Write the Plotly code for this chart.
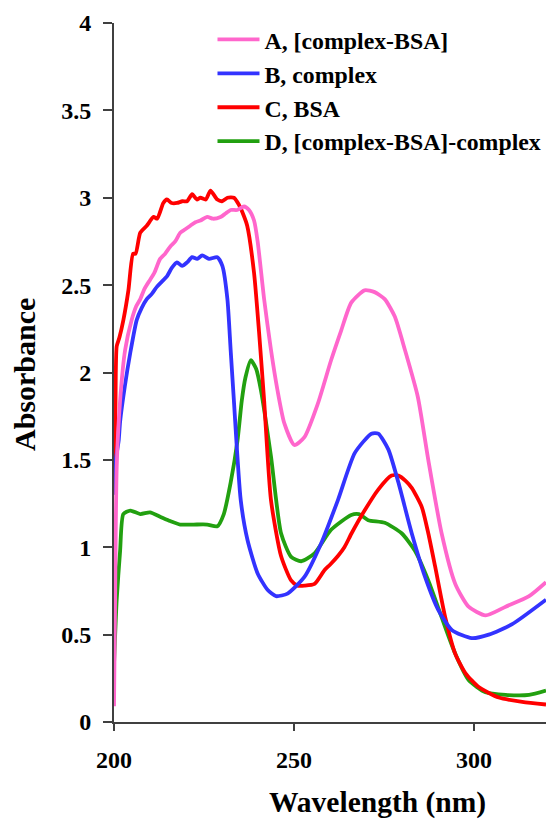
import plotly.graph_objects as go

# ---- data ----
names = ["A, [complex-BSA]", "B, complex", "C, BSA", "D, [complex-BSA]-complex"]
colors = ["#FF66CC", "#3333FF", "#FF0000", "#22A010"]

a_x = [200, 200.3, 200.75, 201.7, 203.1, 204.9, 206.2, 207.3, 208.5, 210, 211.2, 212.8, 214.2, 215.6, 217, 218.4, 219.8,
       221.2, 222.6, 224, 225.9, 227.5, 229.6, 231, 232.4, 234.2, 236.1, 237.5, 238.9, 239.9, 241.7, 243.6, 245.4,
       247.3, 250.1, 252.9, 256.6, 260.3, 263.1, 265.9, 269.6, 272.4, 275.2, 278, 280.8, 284.4, 287.3, 291,
       294.8, 298.5, 303.2, 308.8, 315.3, 320]
a_y = [0.09, 0.70, 1.46, 1.84, 2.13, 2.30, 2.38, 2.42, 2.48, 2.53, 2.57, 2.65, 2.68, 2.72, 2.75, 2.80, 2.82,
       2.84, 2.86, 2.87, 2.89, 2.88, 2.89, 2.91, 2.93, 2.93, 2.95, 2.93, 2.87, 2.75, 2.42, 2.13, 1.90,
       1.71, 1.585, 1.63, 1.82, 2.07, 2.24, 2.40, 2.47, 2.46, 2.42, 2.32, 2.13, 1.86, 1.50, 1.08,
       0.79, 0.66, 0.61, 0.66, 0.72, 0.80]

b_x = [200, 200.5, 201.3, 201.7, 203, 204.5, 206.3, 207.7, 209.1, 210.5, 211.9, 213.3, 214.7, 216.1, 217.5, 218.9,
       220.3, 221.7, 223.1, 224.5, 226.4, 228.7, 230.1, 231.5, 232.4, 233.3, 235.2, 237.1, 239.9, 242.7, 245,
       248.2, 252.9, 257.5, 262.2, 266.9, 271.5, 273.4, 276.2, 279, 282.7, 286.4, 290.1, 293.9, 299.4, 304.1,
       310.6, 320]
b_y = [1.30, 1.50, 1.61, 1.72, 1.92, 2.11, 2.30, 2.37, 2.42, 2.45, 2.49, 2.52, 2.55, 2.60, 2.63, 2.61,
       2.63, 2.66, 2.65, 2.67, 2.65, 2.66, 2.61, 2.42, 2.13, 1.84, 1.27, 1.04, 0.85, 0.755, 0.72,
       0.735, 0.83, 1.02, 1.27, 1.54, 1.65, 1.65, 1.56, 1.37, 1.08, 0.83, 0.64, 0.525, 0.48, 0.50,
       0.56, 0.70]

c_x = [200, 200.4, 200.75, 201.5, 202.6, 204, 205.3, 206, 207.3, 209.1, 211, 212, 213.7, 214.7, 216, 217.5, 219,
       220.3, 221.7, 223, 224, 225.5, 226.8, 228.7, 230, 231.5, 233.3, 234.7, 236, 237, 238.9, 240.3, 241.7,
       243.6, 246.4, 249.2, 251, 252.9, 255.7, 258.5, 260, 262.2, 264, 266, 269.6, 273.4, 277.1, 279, 281,
       282.7, 285.5, 287.3, 289.2, 292, 294.8, 297.6, 301.3, 306.9, 313.4, 320]
c_y = [1.40, 1.80, 2.15, 2.20, 2.30, 2.47, 2.68, 2.68, 2.80, 2.84, 2.89, 2.88, 2.97, 2.99, 2.97, 2.97, 2.98,
       2.98, 3.02, 2.99, 3.00, 2.99, 3.04, 2.99, 2.98, 3.00, 3.00, 2.96, 2.90, 2.84, 2.57, 2.23, 1.84,
       1.27, 0.95, 0.81, 0.78, 0.78, 0.79, 0.87, 0.90, 0.95, 1.00, 1.08, 1.21, 1.33, 1.41, 1.41, 1.38,
       1.34, 1.23, 1.08, 0.89, 0.60, 0.39, 0.28, 0.20, 0.14, 0.115, 0.10]

d_x = [200, 200.75, 201.7, 202.6, 204.5, 207.3, 210, 212.8, 215.6, 218.4, 222.1, 225.9, 228.7, 230.5, 232.4,
       234.3, 235.5, 236.5, 238, 239.5, 240.8, 243.6, 246.4, 249.2, 252, 255.7, 260.3, 265.9, 268, 270.6,
       275.2, 279.9, 283.6, 287.3, 291, 294.8, 298.5, 303.2, 308.8, 315.3, 320]
d_y = [0.33, 0.70, 0.98, 1.19, 1.21, 1.19, 1.20, 1.175, 1.15, 1.13, 1.13, 1.13, 1.12, 1.19, 1.37,
       1.61, 1.84, 1.97, 2.07, 2.02, 1.90, 1.52, 1.08, 0.945, 0.92, 0.965, 1.10, 1.185, 1.19, 1.155,
       1.14, 1.08, 0.98, 0.81, 0.60, 0.39, 0.24, 0.17, 0.155, 0.155, 0.18]

x_ticks = [200, 250, 300]
y_ticks = [0, 0.5, 1, 1.5, 2, 2.5, 3, 3.5, 4]
y_tick_text = ["0", "0.5", "1", "1.5", "2", "2.5", "3", "3.5", "4"]

series_x = [a_x, b_x, c_x, d_x]
series_y = [a_y, b_y, c_y, d_y]

FONT = "Liberation Serif, Times New Roman, serif"

# The page body has an 8px default margin, so the figure is 8px smaller
# and its margins are shifted to land the plot where the reference has it.
W, H = 546, 813
ML, MR, MT, MB = 106, 8, 15, 99
PW, PH = W - ML - MR, H - MT - MB

fig = go.Figure()
order = [3, 2, 1, 0]
for i in order:
    fig.add_trace(go.Scatter(
        x=series_x[i], y=series_y[i], mode="lines", name=names[i],
        line=dict(color=colors[i], width=3.8, shape="spline", smoothing=0.6),
        legendrank=i + 1,
    ))

fig.update_layout(
    width=W, height=H,
    margin=dict(l=ML, r=MR, t=MT, b=MB, autoexpand=False),
    paper_bgcolor="white", plot_bgcolor="white",
    font=dict(family=FONT, color="black"),
    showlegend=True,
    legend=dict(
        x=0.228, y=1.008, xanchor="left", yanchor="top",
        font=dict(family=FONT, size=23.8, weight="bold", color="black"),
        bgcolor="rgba(0,0,0,0)", itemwidth=42, tracegroupgap=0,
        traceorder="normal", borderwidth=0,
    ),
    xaxis=dict(
        range=[200, 320], tickvals=x_ticks, ticktext=[str(v) for v in x_ticks],
        showgrid=False, zeroline=False, showline=True, linecolor="#404040", linewidth=2,
        ticks="outside", ticklen=7, tickwidth=2, tickcolor="#404040",
        tickfont=dict(family=FONT, size=24, weight="bold", color="black"),
        ticklabelstandoff=8,
    ),
    yaxis=dict(
        range=[0, 4], tickvals=y_ticks, ticktext=y_tick_text,
        showgrid=False, zeroline=False, showline=True, linecolor="#404040", linewidth=2,
        ticks="outside", ticklen=9, tickwidth=2, tickcolor="#404040",
        tickfont=dict(family=FONT, size=24, weight="bold", color="black"),
        ticklabelstandoff=7,
    ),
    annotations=[
        dict(text="Wavelength (nm)", xref="paper", yref="paper", x=(377 - 114) / PW, y=-(803 - 722) / PH,
             xanchor="center", yanchor="middle", showarrow=False,
             font=dict(family=FONT, size=29.5, weight="bold", color="black")),
        dict(text="Absorbance", xref="paper", yref="paper", x=(24 - 114) / PW, y=(722 - 375) / PH,
             xanchor="center", yanchor="middle", showarrow=False, textangle=-90,
             font=dict(family=FONT, size=30, weight="bold", color="black")),
    ],
)

fig.write_html("out.html")
